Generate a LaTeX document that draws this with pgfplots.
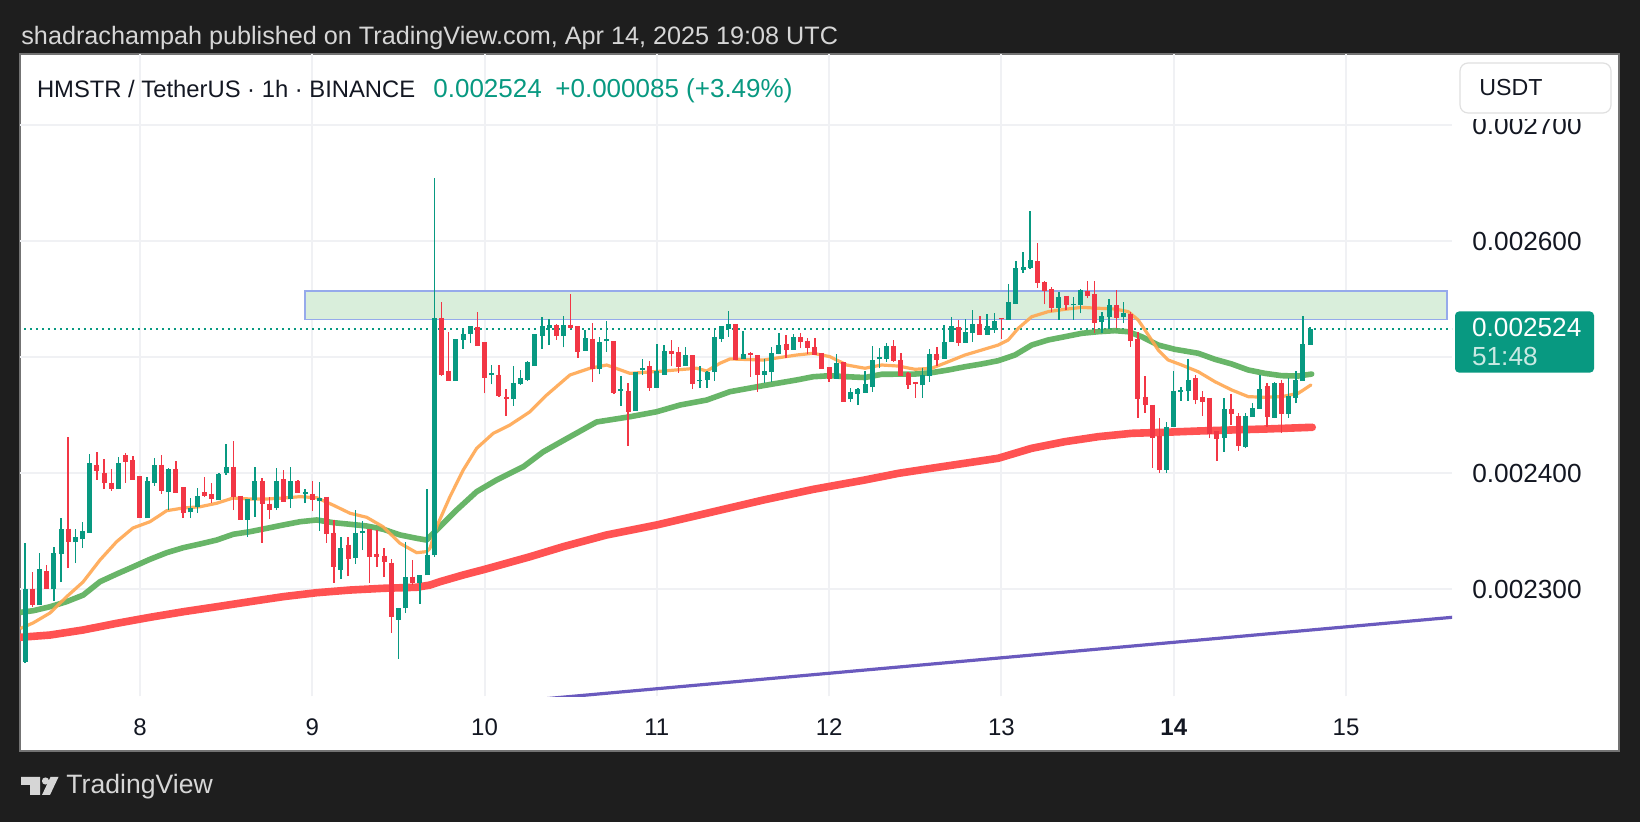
\documentclass[border=0pt]{standalone}
\usepackage{pgfplots}
\pgfplotsset{compat=1.18}
\usepackage{pgfplotstable}
\usepackage{fontspec}
\setmainfont{Liberation Sans}

\definecolor{bg}{RGB}{30,30,30}
\definecolor{up}{HTML}{089981}
\definecolor{dn}{HTML}{F23645}
\definecolor{maA}{RGB}{255,167,80}
\definecolor{maB}{RGB}{88,174,88}
\definecolor{maC}{RGB}{255,82,82}
\definecolor{maD}{RGB}{106,90,190}
\definecolor{gridc}{RGB}{240,241,244}
\definecolor{zonefill}{RGB}{217,238,219}
\definecolor{zoneline}{RGB}{150,170,235}
\definecolor{txt}{RGB}{19,23,34}
\definecolor{hdr}{RGB}{214,214,214}

% candles: hour index, open, high, low, close
\pgfplotstableread{
i o h l c
1 0.0022379 0.0023397 0.0022362 0.0023000
3 0.0022862 0.0023310 0.0022862 0.0023172
5 0.0023000 0.0023362 0.0022897 0.0023310
6 0.0023302 0.0023612 0.0023060 0.0023517
8 0.0023405 0.0023517 0.0023224 0.0023440
9 0.0023431 0.0023578 0.0023353 0.0023500
10 0.0023491 0.0024164 0.0023491 0.0024086
14 0.0023862 0.0024138 0.0023862 0.0024086
18 0.0023612 0.0023966 0.0023612 0.0023931
19 0.0023922 0.0024129 0.0023888 0.0024069
21 0.0023836 0.0024043 0.0023681 0.0024034
24 0.0023664 0.0023784 0.0023612 0.0023698
25 0.0023707 0.0023871 0.0023655 0.0023802
28 0.0023767 0.0024000 0.0023767 0.0023991
29 0.0024000 0.0024250 0.0023983 0.0024052
32 0.0023603 0.0023776 0.0023448 0.0023776
33 0.0023767 0.0024052 0.0023621 0.0023931
36 0.0023698 0.0024043 0.0023681 0.0023931
38 0.0023776 0.0024052 0.0023698 0.0023931
40 0.0023819 0.0023862 0.0023741 0.0023828
42 0.0023759 0.0023922 0.0023500 0.0023784
45 0.0023172 0.0023448 0.0023086 0.0023353
47 0.0023267 0.0023681 0.0023216 0.0023483
48 0.0023483 0.0023586 0.0023336 0.0023500
53 0.0022741 0.0022836 0.0022397 0.0022836
54 0.0022836 0.0023405 0.0022793 0.0023103
56 0.0023052 0.0023121 0.0022871 0.0023121
57 0.0023121 0.0023862 0.0023121 0.0023293
58 0.0023293 0.0026543 0.0023276 0.0025328
61 0.0024796 0.0025155 0.0024796 0.0025155
62 0.0025153 0.0025253 0.0025069 0.0025190
63 0.0025204 0.0025261 0.0025118 0.0025261
66 0.0024845 0.0024931 0.0024765 0.0024859
69 0.0024638 0.0024922 0.0024580 0.0024773
70 0.0024770 0.0024888 0.0024759 0.0024816
71 0.0024808 0.0024966 0.0024793 0.0024951
72 0.0024925 0.0025196 0.0024925 0.0025196
73 0.0025184 0.0025342 0.0025069 0.0025261
74 0.0025253 0.0025325 0.0025103 0.0025270
76 0.0025184 0.0025353 0.0025084 0.0025276
79 0.0025060 0.0025233 0.0025060 0.0025161
81 0.0024903 0.0025170 0.0024851 0.0025127
82 0.0025138 0.0025310 0.0025046 0.0025147
84 0.0024713 0.0024839 0.0024580 0.0024724
86 0.0024537 0.0024865 0.0024537 0.0024865
87 0.0024888 0.0024983 0.0024845 0.0024903
89 0.0024735 0.0025109 0.0024735 0.0024879
90 0.0024851 0.0025103 0.0024851 0.0025052
93 0.0024925 0.0025089 0.0024925 0.0025011
95 0.0024796 0.0024922 0.0024735 0.0024802
96 0.0024802 0.0024879 0.0024735 0.0024868
97 0.0024873 0.0025253 0.0024796 0.0025166
98 0.0025161 0.0025270 0.0025132 0.0025261
99 0.0025247 0.0025397 0.0025175 0.0025282
101 0.0024983 0.0025224 0.0024983 0.0025023
104 0.0024851 0.0024983 0.0024778 0.0024879
105 0.0024873 0.0025089 0.0024787 0.0025032
106 0.0025032 0.0025204 0.0025023 0.0025097
108 0.0025066 0.0025196 0.0025066 0.0025166
114 0.0024816 0.0025023 0.0024816 0.0024946
116 0.0024638 0.0024735 0.0024615 0.0024696
117 0.0024687 0.0024730 0.0024586 0.0024716
118 0.0024696 0.0024879 0.0024696 0.0024759
119 0.0024744 0.0025097 0.0024701 0.0024974
120 0.0024983 0.0025080 0.0024903 0.0024994
121 0.0024989 0.0025123 0.0024959 0.0025089
126 0.0024759 0.0024903 0.0024649 0.0024845
127 0.0024839 0.0025069 0.0024787 0.0025026
129 0.0024989 0.0025276 0.0024989 0.0025127
130 0.0025132 0.0025342 0.0025132 0.0025261
132 0.0025127 0.0025328 0.0025127 0.0025210
133 0.0025210 0.0025405 0.0025132 0.0025282
135 0.0025196 0.0025371 0.0025196 0.0025261
136 0.0025241 0.0025382 0.0025210 0.0025310
138 0.0025325 0.0025629 0.0025319 0.0025472
139 0.0025463 0.0025828 0.0025463 0.0025759
140 0.0025756 0.0025908 0.0025722 0.0025773
141 0.0025773 0.0026259 0.0025759 0.0025830
145 0.0025425 0.0025563 0.0025319 0.0025515
147 0.0025448 0.0025515 0.0025319 0.0025457
148 0.0025454 0.0025584 0.0025377 0.0025572
151 0.0025304 0.0025391 0.0025204 0.0025353
152 0.0025347 0.0025497 0.0025239 0.0025440
154 0.0025347 0.0025472 0.0025291 0.0025377
160 0.0024034 0.0024437 0.0024003 0.0024394
161 0.0024399 0.0024879 0.0024399 0.0024701
162 0.0024701 0.0024744 0.0024621 0.0024709
163 0.0024707 0.0024983 0.0024621 0.0024802
168 0.0024304 0.0024644 0.0024184 0.0024552
171 0.0024227 0.0024515 0.0024213 0.0024485
172 0.0024485 0.0024601 0.0024485 0.0024558
173 0.0024558 0.0024845 0.0024558 0.0024716
175 0.0024480 0.0024787 0.0024472 0.0024773
177 0.0024509 0.0024816 0.0024477 0.0024664
178 0.0024653 0.0024882 0.0024601 0.0024796
179 0.0024796 0.0025353 0.0024796 0.0025112
180 0.0025109 0.0025261 0.0025109 0.0025240
}\upcandles

\pgfplotstableread{
i o h l c
2 0.0023000 0.0023147 0.0022845 0.0022862
4 0.0023147 0.0023207 0.0023000 0.0023000
7 0.0023517 0.0024310 0.0023181 0.0023405
11 0.0024069 0.0024181 0.0023940 0.0024017
12 0.0024000 0.0024121 0.0023862 0.0023914
13 0.0023914 0.0024034 0.0023845 0.0023862
15 0.0024147 0.0024172 0.0023914 0.0024103
16 0.0024112 0.0024147 0.0023940 0.0023940
17 0.0023966 0.0023974 0.0023612 0.0023612
20 0.0024069 0.0024155 0.0023819 0.0023845
22 0.0024034 0.0024103 0.0023828 0.0023828
23 0.0023871 0.0023871 0.0023612 0.0023655
26 0.0023828 0.0023966 0.0023793 0.0023810
27 0.0023819 0.0023914 0.0023741 0.0023776
30 0.0024052 0.0024276 0.0023681 0.0023793
31 0.0023802 0.0023802 0.0023603 0.0023603
34 0.0023931 0.0023957 0.0023397 0.0023733
35 0.0023733 0.0023793 0.0023603 0.0023681
37 0.0023940 0.0024026 0.0023750 0.0023750
39 0.0023931 0.0023940 0.0023828 0.0023828
41 0.0023819 0.0023931 0.0023672 0.0023767
43 0.0023793 0.0023793 0.0023397 0.0023474
44 0.0023483 0.0023595 0.0023052 0.0023190
46 0.0023379 0.0023448 0.0023112 0.0023259
49 0.0023509 0.0023509 0.0023052 0.0023284
50 0.0023302 0.0023509 0.0023190 0.0023276
51 0.0023284 0.0023353 0.0023103 0.0023233
52 0.0023224 0.0023259 0.0022621 0.0022759
55 0.0023103 0.0023250 0.0023034 0.0023052
59 0.0025334 0.0025472 0.0024839 0.0024845
60 0.0024879 0.0025213 0.0024796 0.0024796
64 0.0025256 0.0025385 0.0025103 0.0025103
65 0.0025127 0.0025127 0.0024687 0.0024822
67 0.0024845 0.0024931 0.0024658 0.0024672
68 0.0024653 0.0024724 0.0024494 0.0024638
75 0.0025270 0.0025284 0.0025147 0.0025184
77 0.0025276 0.0025543 0.0025241 0.0025256
78 0.0025261 0.0025261 0.0024994 0.0025046
80 0.0025155 0.0025291 0.0024787 0.0024903
83 0.0025132 0.0025132 0.0024681 0.0024696
85 0.0024707 0.0024773 0.0024235 0.0024528
88 0.0024916 0.0024966 0.0024709 0.0024735
91 0.0025052 0.0025147 0.0024922 0.0025032
92 0.0025037 0.0025089 0.0024865 0.0024922
94 0.0025011 0.0025017 0.0024722 0.0024767
100 0.0025282 0.0025282 0.0024974 0.0024974
102 0.0025032 0.0025046 0.0024830 0.0025023
103 0.0025009 0.0025009 0.0024701 0.0024851
107 0.0025109 0.0025190 0.0024994 0.0025066
109 0.0025166 0.0025204 0.0025075 0.0025132
110 0.0025138 0.0025161 0.0025023 0.0025084
111 0.0025084 0.0025166 0.0025023 0.0025023
112 0.0025032 0.0025032 0.0024903 0.0024903
113 0.0024908 0.0024908 0.0024787 0.0024816
115 0.0024951 0.0024959 0.0024615 0.0024615
122 0.0025089 0.0025147 0.0024959 0.0024968
123 0.0024974 0.0025032 0.0024839 0.0024839
124 0.0024859 0.0024873 0.0024724 0.0024759
125 0.0024778 0.0024778 0.0024649 0.0024767
128 0.0025026 0.0025084 0.0024925 0.0024974
131 0.0025253 0.0025319 0.0025097 0.0025123
134 0.0025282 0.0025353 0.0025190 0.0025190
137 0.0025334 0.0025339 0.0025155 0.0025328
142 0.0025822 0.0025985 0.0025597 0.0025641
143 0.0025641 0.0025658 0.0025454 0.0025572
144 0.0025578 0.0025601 0.0025391 0.0025425
146 0.0025526 0.0025526 0.0025405 0.0025448
149 0.0025569 0.0025658 0.0025506 0.0025534
150 0.0025541 0.0025658 0.0025204 0.0025299
153 0.0025440 0.0025578 0.0025247 0.0025339
155 0.0025368 0.0025391 0.0025089 0.0025141
156 0.0025147 0.0025218 0.0024477 0.0024638
157 0.0024653 0.0024839 0.0024520 0.0024586
158 0.0024586 0.0024586 0.0024046 0.0024304
159 0.0024313 0.0024472 0.0024003 0.0024034
164 0.0024816 0.0024845 0.0024592 0.0024629
165 0.0024649 0.0024707 0.0024491 0.0024615
166 0.0024644 0.0024644 0.0024299 0.0024342
167 0.0024356 0.0024356 0.0024106 0.0024299
169 0.0024552 0.0024681 0.0024414 0.0024515
170 0.0024491 0.0024515 0.0024192 0.0024241
174 0.0024744 0.0024778 0.0024399 0.0024485
176 0.0024773 0.0024802 0.0024347 0.0024515
}\dncandles

\begin{document}
\begin{tikzpicture}
\fill[bg] (0pt,0pt) rectangle (820pt,-411pt);
\begin{scope}[x=0.5pt,y=-0.5pt]
  \fill[white] (20,54) rectangle (1619,751);
  \draw[black!55, line width=0.6pt] (20,54) rectangle (1619,751);
\end{scope}

\begin{axis}[
  at={(10pt,-27pt)}, anchor=north west,
  scale only axis, width=716pt, height=321pt,
  xmin=0.286, xmax=199.76,
  ymin=0.00220776, ymax=0.00276121,
  axis line style={draw=none},
  major tick length=0pt,
  scaled y ticks=false, scaled x ticks=false,
  xtick={17,41,65,89,113,137,161,185},
  xticklabels={8,9,10,11,12,13,\textbf{14},15},
  ytick={0.0023,0.0024,0.0025,0.0026,0.0027},
  yticklabels={0.002300,0.002400,{},0.002600,0.002700},
  yticklabel pos=right,
  grid=major,
  grid style={draw=gridc, line width=1pt},
  xticklabel style={anchor=base, yshift=-19.85pt, font=\fontsize{12}{14}\selectfont, text=txt},
  yticklabel style={anchor=center, xshift=37.5pt, font=\fontsize{13.1}{15}\selectfont, text=txt},
  clip=true,
]
% resistance zone
\addplot[fill=zonefill, draw=zoneline, line width=0.9pt, forget plot]
  coordinates {(40,0.0025572) (199.06,0.0025572) (199.06,0.0025323) (40,0.0025323)} -- cycle;
% last price line
\addplot[up, line width=0.9pt, dash pattern=on 1pt off 2pt, forget plot]
  coordinates {(0,0.002524) (200,0.002524)};
% trend line
\addplot[maD, line width=1.6pt, forget plot] coordinates {(60,0.0021979) (205,0.0022785)};
% long moving average
\addplot[maC, line width=3.8pt, line join=round, line cap=round, forget plot] coordinates {
(0.38,0.0022584) (4.46,0.0022603) (9.10,0.0022647) (13.75,0.0022704) (18.39,0.0022756)
(23.03,0.0022804) (27.68,0.0022847) (32.32,0.0022891) (36.96,0.0022934) (41.61,0.0022968)
(46.25,0.0022991) (50.89,0.0023006) (55.54,0.0023015) (57.39,0.0023034) (58.79,0.0023063)
(62.03,0.0023121) (65.05,0.0023170) (71.32,0.0023278) (75.96,0.0023365) (82.01,0.0023466)
(88.97,0.0023552) (96.86,0.0023666) (103.82,0.0023767) (110.78,0.0023859) (117.99,0.0023940)
(122.62,0.0023997) (127.28,0.0024041) (131.91,0.0024084) (136.55,0.0024127) (141.21,0.0024213)
(145.84,0.0024270) (150.48,0.0024313) (155.13,0.0024342) (159.77,0.0024351) (164.41,0.0024362)
(169.06,0.0024371) (173.70,0.0024379) (180.29,0.0024394)};
% medium moving average
\addplot[maB, line width=2.8pt, line join=round, line cap=round, opacity=0.9, forget plot] coordinates {
(0.38,0.0022799) (2.14,0.0022813) (4.46,0.0022847) (6.79,0.0022891) (9.10,0.0022948)
(11.43,0.0023063) (13.75,0.0023129) (16.07,0.0023192) (18.39,0.0023256) (20.72,0.0023313)
(23.03,0.0023356) (25.36,0.0023388) (27.68,0.0023422) (30.00,0.0023472) (32.32,0.0023494)
(34.65,0.0023523) (36.96,0.0023552) (39.29,0.0023580) (41.61,0.0023595) (43.92,0.0023572)
(46.25,0.0023558) (48.58,0.0023543) (50.89,0.0023515) (53.22,0.0023466) (55.54,0.0023437)
(56.93,0.0023422) (57.39,0.0023451) (58.79,0.0023537) (61.11,0.0023681) (63.90,0.0023839)
(66.68,0.0023940) (70.39,0.0024054) (73.13,0.0024181) (76.34,0.0024293) (80.61,0.0024440)
(85.25,0.0024485) (88.97,0.0024528) (92.22,0.0024586) (95.94,0.0024629) (99.18,0.0024701)
(103.82,0.0024753) (108.47,0.0024802) (110.78,0.0024830) (113.11,0.0024839) (115.44,0.0024830)
(117.99,0.0024823) (120.31,0.0024851) (124.95,0.0024853) (127.28,0.0024865) (129.59,0.0024888)
(131.91,0.0024916) (134.24,0.0024940) (136.55,0.0024968) (138.88,0.0025017) (141.21,0.0025103)
(143.52,0.0025147) (145.84,0.0025175) (148.17,0.0025204) (150.48,0.0025218) (152.81,0.0025227)
(154.66,0.0025218) (156.53,0.0025175) (158.84,0.0025103) (161.17,0.0025066) (164.41,0.0025032)
(166.74,0.0024980) (169.06,0.0024940) (171.38,0.0024888) (173.70,0.0024859) (176.03,0.0024839)
(178.34,0.0024836) (180.21,0.0024853)};
% short moving average
\addplot[maA, line width=1.6pt, line join=round, line cap=round, opacity=0.9, forget plot] coordinates {
(0.38,0.0022661) (2.10,0.0022707) (4.46,0.0022793) (6.79,0.0022934) (9.06,0.0023060)
(11.43,0.0023250) (13.75,0.0023408) (16.02,0.0023526) (18.39,0.0023580) (20.72,0.0023675)
(22.99,0.0023698) (25.36,0.0023709) (27.68,0.0023739) (29.95,0.0023784) (32.32,0.0023776)
(34.65,0.0023776) (36.92,0.0023784) (39.29,0.0023796) (41.61,0.0023787) (43.88,0.0023724)
(46.25,0.0023653) (48.58,0.0023618) (50.85,0.0023537) (53.22,0.0023394) (55.54,0.0023313)
(56.93,0.0023322) (57.39,0.0023351) (58.33,0.0023537) (60.18,0.0023796) (62.03,0.0024026)
(63.90,0.0024213) (66.21,0.0024342) (68.54,0.0024414) (71.32,0.0024528) (73.65,0.0024672)
(76.89,0.0024845) (79.68,0.0024903) (82.01,0.0024931) (85.25,0.0024859) (89.89,0.0024879)
(94.54,0.0024903) (95.94,0.0024879) (97.79,0.0024946) (99.18,0.0024983) (103.82,0.0024974)
(108.47,0.0025017) (110.78,0.0025032) (113.11,0.0025003) (115.44,0.0024931) (117.99,0.0024903)
(120.31,0.0024931) (122.62,0.0024922) (124.95,0.0024894) (127.28,0.0024903) (129.59,0.0024959)
(131.91,0.0025017) (134.24,0.0025060) (136.55,0.0025103) (137.95,0.0025147) (139.34,0.0025247)
(141.21,0.0025347) (143.52,0.0025391) (145.84,0.0025411) (148.17,0.0025428) (150.48,0.0025420)
(152.81,0.0025414) (154.66,0.0025391) (156.05,0.0025319) (157.45,0.0025190) (158.84,0.0025060)
(160.23,0.0024974) (162.10,0.0024931) (164.41,0.0024873) (166.74,0.0024787) (169.06,0.0024716)
(171.38,0.0024658) (173.70,0.0024653) (176.03,0.0024658) (178.34,0.0024687) (180.11,0.0024759)};
% wicks
\addplot[draw=up, line width=0.7pt, mark=none, forget plot,
  quiver={u=0, v=\thisrow{h}-\thisrow{l}}]
  table[x=i, y=l] {\upcandles};
\addplot[draw=dn, line width=0.7pt, mark=none, forget plot,
  quiver={u=0, v=\thisrow{h}-\thisrow{l}}]
  table[x=i, y=l] {\dncandles};
% bodies
\addplot[draw=up, line width=2.5pt, mark=none, forget plot,
  quiver={u=0, v=\thisrow{c}-\thisrow{o}+0.0000008}]
  table[x=i, y expr=\thisrow{o}-0.0000004] {\upcandles};
\addplot[draw=dn, line width=2.5pt, mark=none, forget plot,
  quiver={u=0, v=\thisrow{c}-\thisrow{o}-0.0000008}]
  table[x=i, y expr=\thisrow{o}+0.0000004] {\dncandles};
\end{axis}

\begin{scope}[x=0.5pt,y=-0.5pt]
  % mask top of price scale
  \fill[white] (1453,55) rectangle (1618,119);
  % currency box
  \filldraw[fill=white, draw=black!12, line width=0.6pt, rounded corners=4pt] (1460,63) rectangle (1611,113);
  \node[anchor=west, inner sep=0pt, text=txt, font=\fontsize{11.6}{14}\selectfont] at (1479,88) {USDT};
  % last price tag
  \fill[up, rounded corners=2pt] (1455,311.5) rectangle (1594,372.6);
  \node[anchor=west, inner sep=0pt, text=white, font=\fontsize{13.1}{15}\selectfont] at (1471.7,327.8) {0.002524};
  \node[anchor=west, inner sep=0pt, text=white!78!up, font=\fontsize{13.1}{15}\selectfont] at (1471.7,356.8) {51:48};
  % header texts
  \node[anchor=base west, inner sep=0pt, text=hdr, font=\fontsize{12.6}{15}\selectfont] at (21,45)
    {shadrachampah published on TradingView.com, Apr 14, 2025 19:08 UTC};
  \node[anchor=base west, inner sep=0pt, text=txt, font=\fontsize{11.9}{14}\selectfont] at (36.6,98)
    {HMSTR / TetherUS · 1h · BINANCE};
  \node[anchor=base west, inner sep=0pt, text=up, font=\fontsize{13}{15}\selectfont] at (433,98) {0.002524};
  \node[anchor=base west, inner sep=0pt, text=up, font=\fontsize{13}{15}\selectfont] at (555,98) {+0.000085 (+3.49\%)};
  % footer logo
  \fill[hdr] (21,777) -- (40,777) -- (40,795) -- (30,795) -- (30,785) -- (21,785) -- cycle;
  \fill[hdr] (45.5,781) circle (3.6);
  \fill[hdr] (50.5,777) -- (58.5,777) -- (50,795) -- (42,795) -- cycle;
  \node[anchor=base west, inner sep=0pt, text=hdr, font=\fontsize{13.3}{16}\selectfont] at (66,793.5) {TradingView};
\end{scope}
\end{tikzpicture}
\end{document}
